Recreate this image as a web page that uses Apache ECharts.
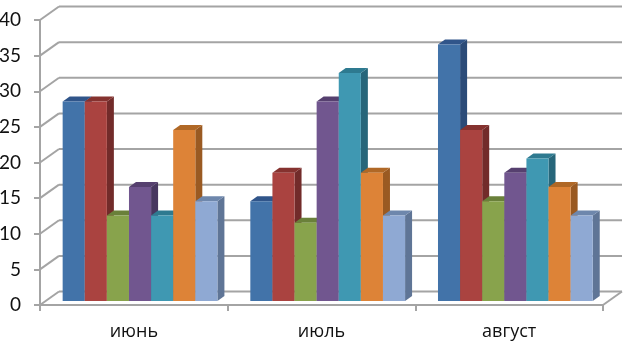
<!DOCTYPE html>
<html><head><meta charset="utf-8">
<style>html,body{margin:0;padding:0;background:#fff}#c{width:628px;height:342px}</style>
<script src="https://cdn.jsdelivr.net/npm/echarts@6/dist/echarts.min.js"></script>
</head><body><div id="c"></div>
<script>
const categories = ['июнь', 'июль', 'август'];
const yTicks = [0, 5, 10, 15, 20, 25, 30, 35, 40];
const series1 = [28, 14, 36];
const series2 = [28, 18, 24];
const series3 = [12, 11, 14];
const series4 = [16, 28, 18];
const series5 = [12, 32, 20];
const series6 = [24, 18, 16];
const series7 = [14, 12, 12];
const allSeries = [series1, series2, series3, series4, series5, series6, series7];
const palette = [
  {front:'#4273a9', side:'#2b4b78', top:'#30558a'},
  {front:'#aa4340', side:'#722b2a', top:'#85322f'},
  {front:'#88a34c', side:'#5b6f32', top:'#6a803a'},
  {front:'#71568f', side:'#483760', top:'#56406f'},
  {front:'#3f98b2', side:'#27667a', top:'#2e7a90'},
  {front:'#dd8337', side:'#9a5a22', top:'#b06826'},
  {front:'#8fa9d3', side:'#5f7596', top:'#6e87ac'}
];
const wallColor = '#a4a4a4';
const DX = 19, DY = -13.5;

function wallItem(params, api) {
  const r = params.coordSys;
  const v = api.value(1);
  const y = api.coord([0, v])[1];
  const children = [];
  const lineStyle = {stroke: wallColor, lineWidth: 2, fill: null};
  children.push({type:'line', shape:{x1:r.x, y1:y, x2:r.x+DX, y2:y+DY}, style:lineStyle});
  children.push({type:'line', shape:{x1:r.x+DX, y1:y+DY, x2:r.x+r.width+DX, y2:y+DY}, style:lineStyle});
  if (v === 0) {
    children.push({type:'line', shape:{x1:r.x+r.width, y1:y, x2:r.x+r.width+DX, y2:y+DY}, style:lineStyle});
  }
  return {type:'group', children};
}

function barItem(index) {
  const count = allSeries.length;
  return function (params, api) {
    const band = api.size([1, 0])[0];
    const w = band * 0.1178;
    const cx = api.coord([api.value(0), 0])[0] + 6.2;
    const x = cx - w * count / 2 + index * w;
    const shiftY = -4;
    const b = api.coord([0, 0])[1] + shiftY;
    const t = api.coord([0, api.value(1)])[1] + shiftY;
    const d = 7, e = -5;
    const c = palette[index];
    return {type:'group', children:[
      {type:'polygon', shape:{points:[[x+w,t],[x+w+d,t+e],[x+w+d,b+e],[x+w,b]]}, style:{fill:c.side}},
      {type:'polygon', shape:{points:[[x,t],[x+d,t+e],[x+w+d,t+e],[x+w,t]]}, style:{fill:c.top}},
      {type:'rect', shape:{x:x, y:t, width:w, height:b-t}, style:{fill:c.front}}
    ]};
  };
}

const series = [{
  type:'custom', z:1, silent:true, clip:false,
  data: yTicks.map(v => [0, v]),
  encode:{x:0, y:1},
  renderItem: wallItem
}];
allSeries.forEach((vals, i) => {
  series.push({
    type:'custom', z:2+i, silent:true, clip:false,
    data: vals.map((v, k) => [k, v]),
    encode:{x:0, y:1},
    renderItem: barItem(i)
  });
});

const chart = echarts.init(document.getElementById('c'), null, {renderer:'canvas'});
chart.setOption({
  animation:false,
  backgroundColor:'#fff',
  grid:{left:40, right:25, top:20, bottom:37, outerBoundsMode:'none', containLabel:false},
  xAxis:{
    type:'category', data:categories, boundaryGap:true,
    axisLine:{lineStyle:{color:wallColor, width:2}},
    axisTick:{show:true, length:6, alignWithLabel:false, lineStyle:{color:wallColor, width:2}},
    axisLabel:{fontFamily:'Open Sans', fontSize:18, color:'#111', margin:18},
    splitLine:{show:false}
  },
  yAxis:{
    type:'value', min:0, max:40, interval:5,
    axisLine:{show:true, lineStyle:{color:wallColor, width:2}},
    axisTick:{show:true, length:6, lineStyle:{color:wallColor, width:2}},
    axisLabel:{fontFamily:'Lato', fontSize:19, color:'#111', margin:19},
    splitLine:{show:false}
  },
  series
});
</script></body></html>
